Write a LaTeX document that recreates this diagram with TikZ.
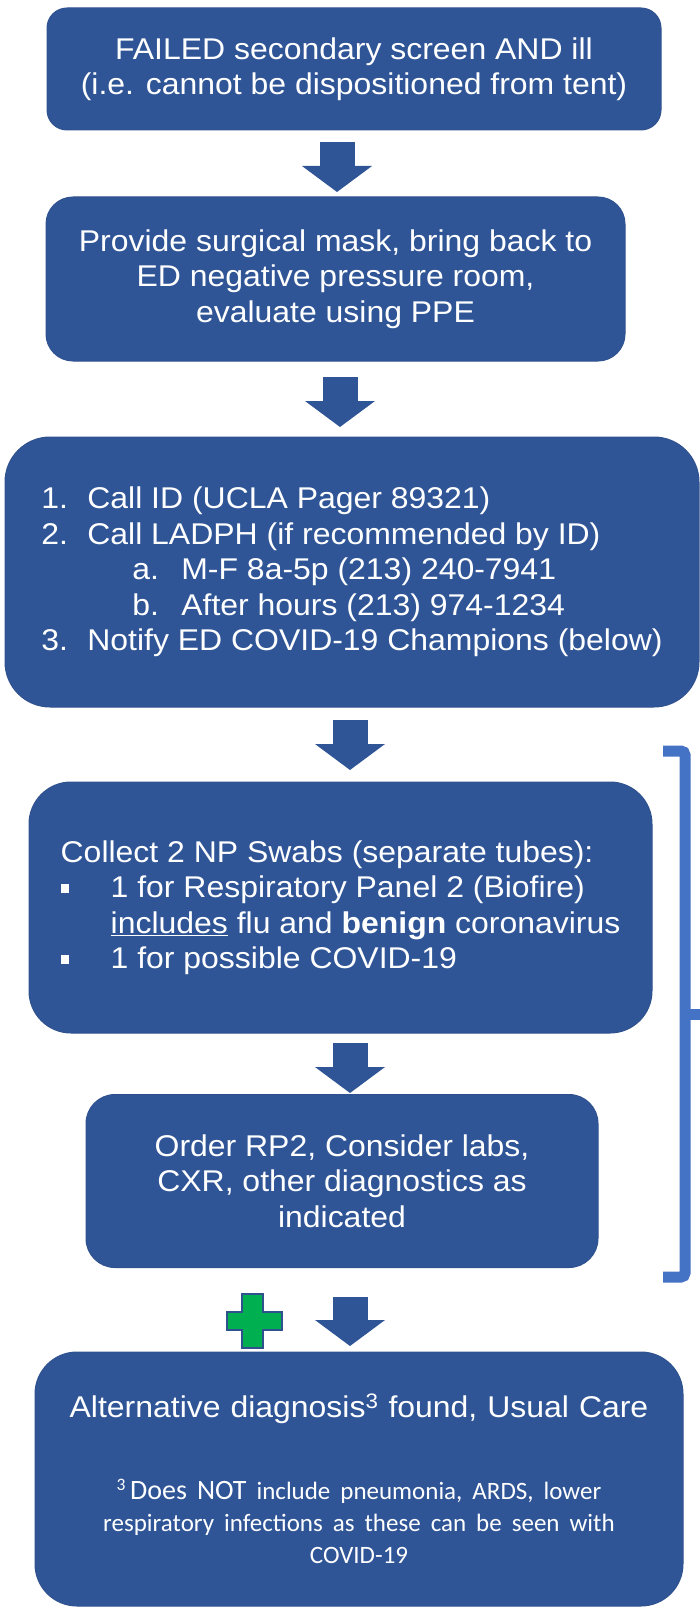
\documentclass[tikz,border=0pt]{standalone}
\usepackage{fontspec}
\setmainfont[FakeStretch=1.065]{Liberation Sans}
\newfontfamily\calibri{Carlito}
\usetikzlibrary{arrows.meta}
\definecolor{boxblue}{RGB}{47,85,151}
\definecolor{boxedge}{RGB}{47,82,143}
\definecolor{bracketblue}{RGB}{68,114,196}
\definecolor{plusgreen}{RGB}{0,176,80}

\tikzset{
	flowbox/.style={rectangle,rounded corners=#1,fill=boxblue,draw=boxedge,line width=1pt,
		text=white,inner sep=0pt,align=center,font=\fontsize{30}{35.5}\selectfont},
	blockarrow/.style={draw=boxblue,line width=35pt,
		-{Triangle[length=26pt,width=70pt,line width=0pt,fill=boxblue]}},
	bracketline/.style={draw=bracketblue,line width=11pt,rounded corners=4pt},
	plussign/.style={fill=plusgreen,draw=boxedge,line width=2pt}
}

\begin{document}
\begin{tikzpicture}[x=1pt,y=-1pt]
		\useasboundingbox (0,0) rectangle (700,1608);

		% steps
		\node[flowbox=20pt,minimum width=614pt,minimum height=122pt] (fail) at (354,69)
			{FAILED secondary screen AND ill\\(i.e. cannot be dispositioned from tent)};
		\node[flowbox=27pt,minimum width=579pt,minimum height=164pt] (mask) at (335.5,279)
			{Provide surgical mask, bring back to\\ED negative pressure room,\\evaluate using PPE};
		\node[flowbox=45pt,minimum width=694pt,minimum height=270pt,align=left] (call) at (352,572)
			{\makebox[46pt][l]{1.}Call ID (UCLA Pager 89321)\\
			 \makebox[46pt][l]{2.}Call LADPH (if recommended by ID)\\
			 \hspace*{91pt}\makebox[49pt][l]{a.}M-F 8a-5p (213) 240-7941\\
			 \hspace*{91pt}\makebox[49pt][l]{b.}After hours (213) 974-1234\\
			 \makebox[46pt][l]{3.}Notify ED COVID-19 Champions (below)};
		\node[flowbox=42pt,minimum width=623pt,minimum height=251pt,align=left] (swab) at (340.5,907.5)
			{Collect 2 NP Swabs (separate tubes):\\
			 \makebox[50pt][l]{\rule[5pt]{8pt}{9pt}}1 for Respiratory Panel 2 (Biofire)\\
			 \hspace*{50pt}\underline{includes} flu and \textbf{benign} coronavirus\\
			 \makebox[50pt][l]{\rule[5pt]{8pt}{9pt}}1 for possible COVID-19};
		\node[flowbox=29pt,minimum width=512pt,minimum height=173pt] (order) at (342,1181)
			{Order RP2, Consider labs,\\CXR, other diagnostics as\\indicated};
		\node[flowbox=42pt,minimum width=648pt,minimum height=254pt,text width=620pt] (alt) at (359,1479)
			{Alternative diagnosis\textsuperscript{3} found, Usual Care\par\vspace{50pt}
			 {\calibri\fontsize{25}{32}\selectfont\textsuperscript{3}\,{\fontsize{28}{32}\selectfont Does NOT}
			 include pneumonia, ARDS, lower\\respiratory infections as these can be seen with\\COVID-19\par}};

		% block arrows
		\coordinate (a1s) at (337,142);  \coordinate (a1e) at (337,192);
		\coordinate (a2s) at (340,377);  \coordinate (a2e) at (340,427);
		\coordinate (a3s) at (350,720);  \coordinate (a3e) at (350,770);
		\coordinate (a4s) at (350,1043); \coordinate (a4e) at (350,1093);
		\coordinate (a5s) at (350,1297); \coordinate (a5e) at (350,1346);
		\draw[blockarrow] (a1s) -- (a1e);
		\draw[blockarrow] (a2s) -- (a2e);
		\draw[blockarrow] (a3s) -- (a3e);
		\draw[blockarrow] (a4s) -- (a4e);
		\draw[blockarrow] (a5s) -- (a5e);

		% bracket
		\draw[bracketline] (663,751) -- (685,751) -- (685,1277) -- (663,1277);
		\draw[bracketline] (685,1014) -- (700,1014);

		% plus
		\draw[plussign] (242,1294) -- (263,1294) -- (263,1312) -- (282,1312) -- (282,1330)
			-- (263,1330) -- (263,1348) -- (242,1348) -- (242,1330) -- (227,1330)
			-- (227,1312) -- (242,1312) -- cycle;
	\end{tikzpicture}
\end{document}
